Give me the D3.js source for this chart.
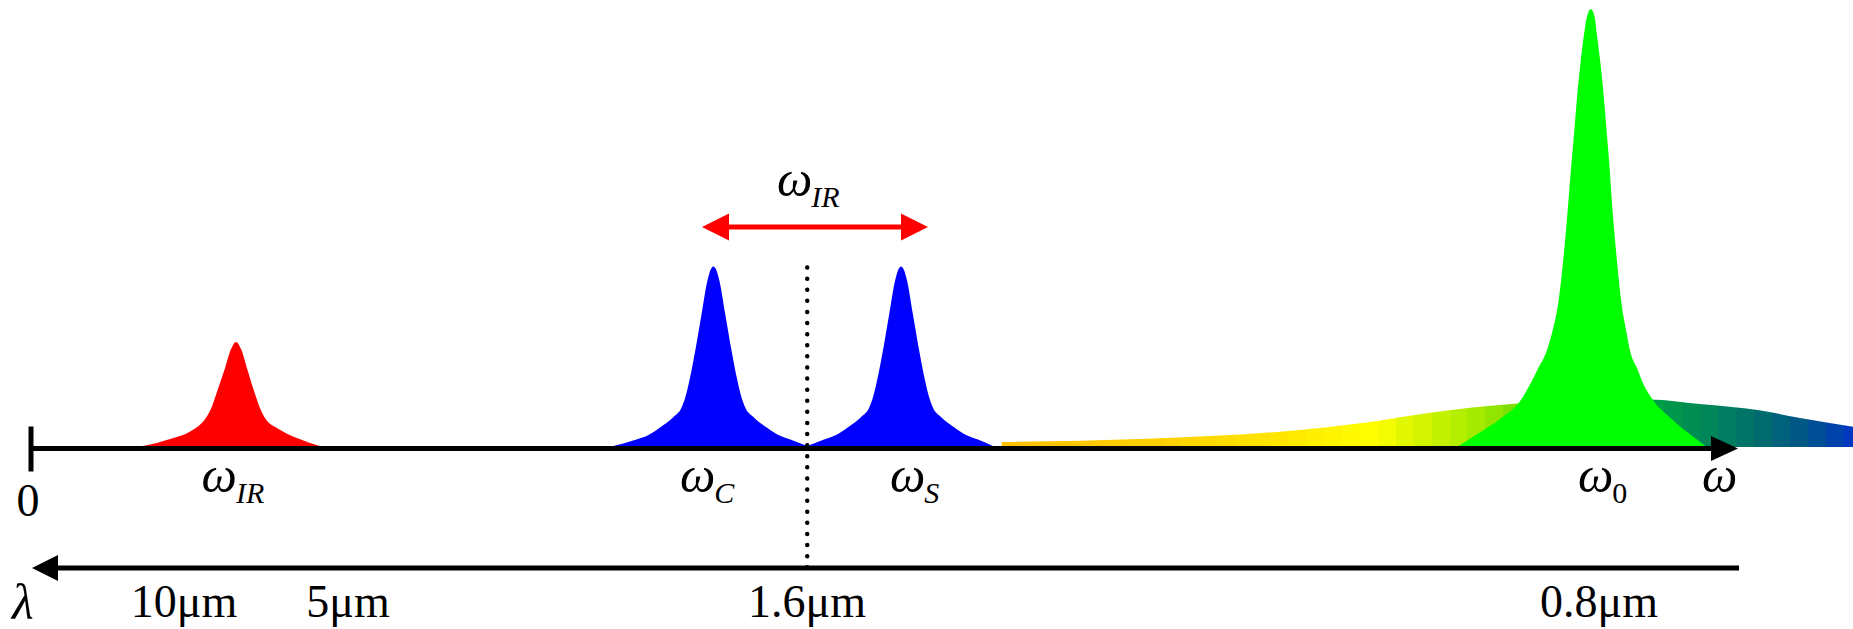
<!DOCTYPE html>
<html>
<head>
<meta charset="utf-8">
<script src="https://cdn.jsdelivr.net/npm/d3@7"></script>
<style>
  html, body { margin: 0; padding: 0; background: #ffffff; }
  svg { display: block; }
  text { font-family: "Liberation Serif", "Times New Roman", serif; fill: #000; }
</style>
</head>
<body>
<svg id="chart" width="1853" height="629"></svg>
<script>
// ---------- data (frequency in arbitrary units, 100 = end of ω axis; amplitude 100 = pump peak) ----------
const redX   = [6.20, 7.37, 8.35, 9.09, 9.57, 9.97, 10.30, 10.57, 10.85, 11.38, 11.72, 12.02, 12.32, 12.65, 13.14, 13.42, 13.67, 13.97, 14.41, 14.92, 15.58, 16.36, 17.12];
const redY   = [0, 0.92, 2.06, 3.0, 4.1, 5.3, 6.9, 8.9, 12.0, 18.1, 22.3, 24.0, 22.3, 18.1, 12.0, 8.9, 6.9, 5.4, 4.35, 3.2, 2.06, 0.92, 0];

const blueCX = [33.90, 34.72, 35.49, 36.19, 36.83, 37.66, 38.12, 38.36, 38.59, 38.97, 39.30, 39.65, 39.85, 40.00,
                40.15, 40.35, 40.70, 41.03, 41.41, 41.64, 41.88, 42.34, 43.17, 43.81, 44.51, 45.50];
const blueCY = [0, 0.8, 1.7, 2.74, 4.35, 6.85, 8.9, 11.4, 15.1, 22.7, 30.2, 38.0, 40.6, 41.2,
                40.6, 38.0, 30.2, 22.7, 15.1, 11.4, 8.9, 6.85, 4.35, 2.74, 1.7, 0.2];

const blueSX = [45.50, 46.49, 47.19, 47.83, 48.66, 49.12, 49.36, 49.59, 49.97, 50.30, 50.65, 50.85, 51.00,
                51.15, 51.35, 51.70, 52.03, 52.41, 52.64, 52.88, 53.34, 54.17, 54.81, 55.51, 56.50];
const blueSY = [0.2, 1.7, 2.74, 4.35, 6.85, 8.9, 11.4, 15.1, 22.7, 30.2, 38.0, 40.6, 41.2,
                40.6, 38.0, 30.2, 22.7, 15.1, 11.4, 8.9, 6.85, 4.35, 2.74, 1.7, 0];

const greenX = [83.58, 84.75, 86.21, 87.29, 87.87, 88.36, 88.85, 89.14, 89.54, 89.77, 89.96, 90.12, 90.28, 90.45, 90.61, 90.80, 91.04, 91.20, 91.43,
                91.66, 91.78, 92.02, 92.21, 92.37, 92.53, 92.66, 92.82, 93.00, 93.21, 93.54, 93.73, 94.13, 94.52, 95.11, 96.08, 97.25, 98.23];
const greenY = [0, 2.9, 6.7, 10.5, 14.3, 18.1, 22.0, 25.8, 33.4, 41.0, 48.7, 56.3, 63.9, 71.6, 79.2, 86.8, 94.4, 98.2, 100,
                98.2, 94.4, 86.8, 79.2, 71.6, 63.9, 56.3, 48.7, 41.0, 33.4, 25.8, 22.0, 18.1, 14.3, 10.5, 6.7, 2.9, 0];

const bandX  = [56.9, 65.4, 73.2, 78.5, 82.0, 84.5, 87.3, 91.4, 94.9, 97.8, 101.3, 103.7, 106.8];
const bandY  = [1.14, 1.9, 3.5, 5.7, 7.8, 9.0, 10.0, 10.7, 10.85, 9.8, 8.4, 6.6, 4.6];
const bandColorPos = [56.9, 65.4, 73.2, 78.8, 80.0, 82.0, 84.5, 87.0, 89.0, 91.5, 94.2, 97.8, 101.0, 104.0, 106.8];
const bandColors   = ["#ffc000", "#ffcf00", "#ffe600", "#ffff00", "#eafa00", "#cdf200", "#a8ec00", "#7ade00", "#5ad800",
                      "#20c030", "#00a540", "#008b55", "#00706a", "#005588", "#0036c0"];

const omegaLabels = [
  { main: "ω", sub: "IR", pos: 10.0,  subItalic: true },
  { main: "ω", sub: "C",  pos: 38.04, subItalic: true },
  { main: "ω", sub: "S",  pos: 50.35, subItalic: true },
  { main: "ω", sub: "0",  pos: 90.68, subItalic: false },
  { main: "ω", sub: "",   pos: 97.95, subItalic: false }
];
const lambdaLabels = ["10μm", "5μm", "1.6μm", "0.8μm"];
const lambdaPos    = [8.97, 18.58, 45.49, 91.91];
const idlerSpan    = [39.33, 52.58];   // ω_IR arrow
const idlerLevel   = 50.2;
const midFreq      = 45.5;             // 1.6 μm degeneracy point

// ---------- scales ----------
const W = 1853, H = 629;
const x = d3.scaleLinear().domain([0, 100]).range([31, 1737]);
const y = d3.scaleLinear().domain([0, 100]).range([447, 9]);
const axisY = 448.5, lambdaAxisY = 568;

const svg = d3.select("#chart");
svg.append("rect").attr("width", W).attr("height", H).attr("fill", "#fff");

const defs = svg.append("defs");

// stepped gradient for the broad band
const colorScale = d3.scaleLinear().domain(bandColorPos).range(bandColors).interpolate(d3.interpolateRgb);
const grad = defs.append("linearGradient").attr("id", "bandGrad")
  .attr("gradientUnits", "userSpaceOnUse")
  .attr("x1", x(bandX[0])).attr("x2", x(bandX[bandX.length - 1])).attr("y1", 0).attr("y2", 0);
const x0 = bandX[0], x1 = bandX[bandX.length - 1];
const step = 1.05;
const nSteps = Math.ceil((x1 - x0) / step);
for (let i = 0; i < nSteps; i++) {
  const a = x0 + i * step, b = Math.min(x1, a + step);
  const c = colorScale(Math.min(x1, a + step * 0.5));
  grad.append("stop").attr("offset", (a - x0) / (x1 - x0)).attr("stop-color", c);
  grad.append("stop").attr("offset", (b - x0) / (x1 - x0)).attr("stop-color", c);
}

const area = d3.area().x(d => x(d[0])).y0(y(0)).y1(d => Math.min(y(0), y(d[1]))).curve(d3.curveMonotoneX);
const bandArea = d3.area().x(d => x(d[0])).y0(y(0)).y1(d => y(d[1])).curve(d3.curveMonotoneX);
const zip = (a, b) => a.map((v, i) => [v, b[i]]);

// band
svg.append("path").datum(zip(bandX, bandY)).attr("d", bandArea).attr("fill", "url(#bandGrad)");
// peaks
svg.append("path").datum(zip(redX, redY)).attr("d", area).attr("fill", "#ff0000");
svg.append("path").datum(zip(blueCX, blueCY)).attr("d", area).attr("fill", "#0000ff");
svg.append("path").datum(zip(blueSX, blueSY)).attr("d", area).attr("fill", "#0000ff");
svg.append("path").datum(zip(greenX, greenY)).attr("d", area).attr("fill", "#00ff00");

// ω axis
svg.append("line").attr("x1", x(0)).attr("x2", x(100) - 22).attr("y1", axisY).attr("y2", axisY)
  .attr("stroke", "#000").attr("stroke-width", 5);
svg.append("line").attr("x1", x(0)).attr("x2", x(0)).attr("y1", axisY - 22).attr("y2", axisY + 23)
  .attr("stroke", "#000").attr("stroke-width", 5);
svg.append("path")
  .attr("d", `M${x(100) + 1},${axisY} L${x(100) - 26},${axisY - 12.5} L${x(100) - 26},${axisY + 12.5} Z`)
  .attr("fill", "#000");

// λ axis (pointing left)
svg.append("line").attr("x1", x(0) + 20).attr("x2", x(100) + 2).attr("y1", lambdaAxisY).attr("y2", lambdaAxisY)
  .attr("stroke", "#000").attr("stroke-width", 5);
svg.append("path")
  .attr("d", `M${x(0) + 1},${lambdaAxisY} L${x(0) + 27},${lambdaAxisY - 13} L${x(0) + 27},${lambdaAxisY + 13} Z`)
  .attr("fill", "#000");

// dotted line at degeneracy
svg.append("line").attr("x1", x(midFreq)).attr("x2", x(midFreq))
  .attr("y1", y(41.2) + 1).attr("y2", lambdaAxisY)
  .attr("stroke", "#000").attr("stroke-width", 4.5).attr("stroke-linecap", "round")
  .attr("stroke-dasharray", "0 11.1");

// red double arrow ω_IR
const ay = y(idlerLevel);
svg.append("line").attr("x1", x(idlerSpan[0]) + 20).attr("x2", x(idlerSpan[1]) - 20).attr("y1", ay).attr("y2", ay)
  .attr("stroke", "#ff0000").attr("stroke-width", 5);
svg.append("path")
  .attr("d", `M${x(idlerSpan[0])},${ay} L${x(idlerSpan[0]) + 27},${ay - 13.5} L${x(idlerSpan[0]) + 27},${ay + 13.5} Z`)
  .attr("fill", "#ff0000");
svg.append("path")
  .attr("d", `M${x(idlerSpan[1])},${ay} L${x(idlerSpan[1]) - 27},${ay - 13.5} L${x(idlerSpan[1]) - 27},${ay + 13.5} Z`)
  .attr("fill", "#ff0000");

// helper for ω labels
function omegaLabel(g, px, base, sub, subItalic) {
  const t = g.append("text").attr("x", px).attr("y", base);
  t.append("tspan").attr("font-size", 50).attr("font-style", "italic").text("ω");
  if (sub) {
    t.append("tspan").attr("font-size", 30).attr("font-style", subItalic ? "italic" : "normal")
      .attr("dx", -1).attr("dy", 11).text(sub);
  }
}
const lab = svg.append("g");
omegaLabels.forEach(d => omegaLabel(lab, x(d.pos), 492, d.sub, d.subItalic));
// top ω_IR label
omegaLabel(lab, x(idlerSpan[0] + 4.4), 196, "IR", true);

// "0"
svg.append("text").attr("x", x(0) - 3).attr("y", 516).attr("text-anchor", "middle")
  .attr("font-size", 46).text("0");
// λ
svg.append("text").attr("x", 12).attr("y", 619).attr("font-size", 50).attr("font-style", "italic").text("λ");
// λ tick labels
svg.selectAll(".lam").data(lambdaLabels).enter().append("text")
  .attr("x", (d, i) => x(lambdaPos[i])).attr("y", 617).attr("text-anchor", "middle")
  .attr("font-size", 46).text(d => d);
</script>
</body>
</html>
